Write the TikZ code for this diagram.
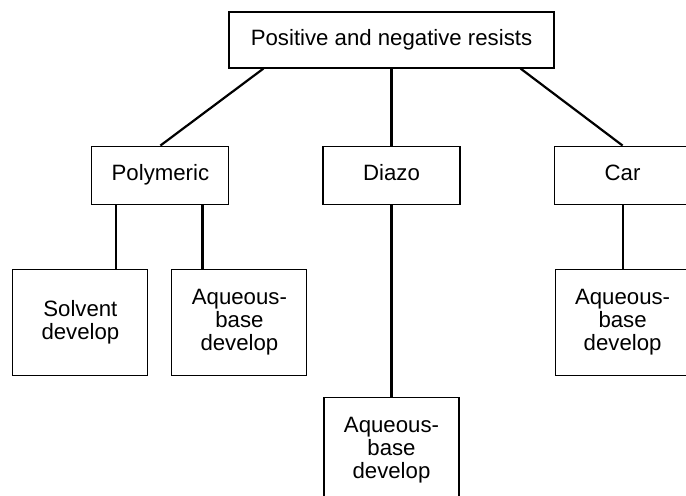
\documentclass[tikz,border=0pt]{standalone}
\usepackage{fontspec}
\setmainfont{Liberation Sans}
\usepackage{tikz}
\usetikzlibrary{positioning}

\begin{document}
\begin{tikzpicture}[
    x=0.5pt, y=-0.5pt,
    font=\fontsize{11.1}{11.3}\selectfont,
    box/.style={
        rectangle,
        draw=black,
        line width=0.55pt,
        align=center,
        inner sep=0pt
    },
    group/.style={box, minimum width=68.5pt, minimum height=29pt,
        text height=8pt, text depth=2.4pt},
    leaf/.style={box, minimum width=67.5pt, minimum height=53pt},
    link/.style={line width=1.1pt}
]
\clip (0,0) rectangle (686,495);

\node[box, minimum width=162.5pt, minimum height=28pt] (resists) at (391.5,40) {Positive and negative resists};
\node[group, below=38.5pt of resists] (diazo) {Diazo};
\node[group, left=46.5pt of diazo] (poly) {Polymeric};
\node[group, right=46.5pt of diazo] (car) {Car};

\node[leaf, below=32pt of poly, xshift=-40pt] (solvent) {Solvent\\develop};
\node[leaf, below=32pt of poly, xshift=39.5pt] (polyaq) {Aqueous-\\base\\develop};
\node[leaf, below=96pt of diazo] (diazoaq) {Aqueous-\\base\\develop};
\node[leaf, below=32pt of car] (caraq) {Aqueous-\\base\\develop};

% connectors from the top box
\draw[link] ([xshift=17.5pt]resists.south west) -- (poly.north);
\draw[link] (resists) -- (diazo);
\draw[link] ([xshift=-17pt]resists.south east) -- (car.north);

% drops to the develop boxes
\coordinate (polyl) at ([xshift=12.5pt]poly.south west);
\coordinate (polyr) at ([xshift=-13.5pt]poly.south east);
\draw[link] (polyl) -- (polyl |- solvent.north);
\draw[link] (polyr) -- (polyr |- polyaq.north);
\draw[link] (diazo) -- (diazoaq);
\draw[link] (car) -- (caraq);

\end{tikzpicture}
\end{document}
